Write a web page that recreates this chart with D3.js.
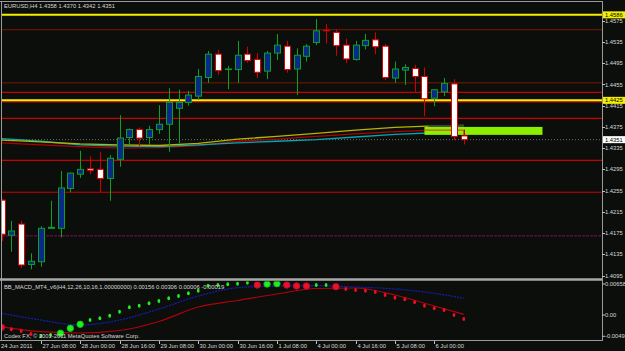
<!DOCTYPE html>
<html><head><meta charset="utf-8">
<script src="https://cdn.jsdelivr.net/npm/d3@7"></script>
<style>body{margin:0;background:#0c0e0c;}svg{display:block}</style>
</head><body>
<svg id="c" width="625" height="351"></svg>
<script>
// ---------- DATA ----------
const opens  = [1.4237,1.4171,1.4192,1.4116,1.4121,1.4184,1.4184,1.4259,1.4286,1.4296,1.4295,1.4278,1.4314,1.4355,1.4370,1.4355,1.4370,1.4380,1.4410,1.4421,1.4433,1.4468,1.4512,1.4483,1.4483,1.4512,1.4502,1.4480,1.4514,1.4527,1.4484,1.4508,1.4534,1.4557,1.4553,1.4529,1.4502,1.4528,1.4539,1.4527,1.4467,1.4482,1.4485,1.4470,1.4429,1.4441,1.4456,1.4358];
const highs  = [1.4240,1.4198,1.4198,1.4137,1.4188,1.4236,1.4292,1.4289,1.4330,1.4320,1.4328,1.4322,1.4397,1.4372,1.4374,1.4377,1.4416,1.4448,1.4445,1.4443,1.4484,1.4518,1.4520,1.4490,1.4537,1.4526,1.4514,1.4518,1.4550,1.4537,1.4523,1.4531,1.4578,1.4569,1.4559,1.4541,1.4537,1.4550,1.4553,1.4531,1.4498,1.4493,1.4492,1.4487,1.4446,1.4467,1.4465,1.4370];
const lows   = [1.4160,1.4140,1.4109,1.4107,1.4112,1.4183,1.4167,1.4252,1.4279,1.4286,1.4252,1.4236,1.4300,1.4341,1.4339,1.4341,1.4362,1.4328,1.4344,1.4415,1.4426,1.4458,1.4473,1.4446,1.4458,1.4496,1.4467,1.4465,1.4501,1.4477,1.4435,1.4498,1.4529,1.4532,1.4509,1.4495,1.4500,1.4521,1.4512,1.4463,1.4458,1.4454,1.4441,1.4395,1.4414,1.4433,1.4350,1.4342];
const closes = [1.4173,1.4179,1.4115,1.4122,1.4184,1.4186,1.4260,1.4288,1.4295,1.4293,1.4278,1.4316,1.4354,1.4370,1.4354,1.4370,1.4380,1.4421,1.4421,1.4435,1.4470,1.4512,1.4481,1.4484,1.4510,1.4500,1.4478,1.4514,1.4529,1.4483,1.4510,1.4527,1.4556,1.4556,1.4528,1.4503,1.4529,1.4538,1.4526,1.4468,1.4484,1.4487,1.4470,1.4428,1.4445,1.4457,1.4357,1.4351];

const maIdx    = [0,4,8,12,16,20,24,28,32,36,40,44,47];
const maYellow = [1.4350,1.4347,1.4343,1.4341,1.4340,1.4344,1.4352,1.4357,1.4363,1.4369,1.4374,1.4377,1.4378];
const maCyan   = [1.4353,1.4348,1.4341,1.4339,1.4338,1.4341,1.4345,1.4348,1.4351,1.4356,1.4361,1.4364,1.4365];
const maRed    = [1.4345,1.4341,1.4338,1.4335,1.4336,1.4340,1.4348,1.4352,1.4357,1.4362,1.4366,1.4369,1.4370];

const levelsYellow = [1.4586,1.4425];
const levelsRed    = [1.4440,1.4422,1.4391,1.4312,1.4252];
const levelsDark   = [1.4558,1.4458];
const levelsPurple = [1.4170];
const lastPrice = 1.4351;
const zone = {from:43, to:55, top:1.4375, bottom:1.4360};

const priceTicks = [1.4575,1.4535,1.4495,1.4455,1.4415,1.4375,1.4335,1.4295,1.4255,1.4215,1.4175,1.4135,1.4095];
const dateTickIdx = [0,4,8,12,16,20,24,28,32,36,40,44];
const dateTickLabels = ["24 Jun 2011","27 Jun 08:00","28 Jun 00:00","28 Jun 16:00","29 Jun 08:00","30 Jun 00:00","30 Jun 16:00","1 Jul 08:00","4 Jul 00:00","4 Jul 16:00","5 Jul 08:00","6 Jul 00:00"];

const bandUpper = [0.00034,-0.00098,-0.00196,-0.00098,0.00118,0.00373,0.00536,0.00570,0.00576,0.00550,0.00511,0.00426,0.00328];
const bandLower = [-0.00229,-0.00327,-0.00353,-0.00304,-0.00127,0.00158,0.00285,0.00413,0.00521,0.00530,0.00393,0.00177,0.00014];
const macdDots = [-0.00241,-0.00280,-0.00313,-0.00372,-0.00412,-0.00392,-0.00358,-0.00260,-0.00182,-0.00097,-0.00064,-0.00013,0.00065,0.00152,0.00183,0.00230,0.00275,0.00328,0.00373,0.00426,0.00477,0.00576,0.00589,0.00603,0.00615,0.00634,0.00589,0.00609,0.00615,0.00589,0.00570,0.00570,0.00589,0.00589,0.00556,0.00511,0.00491,0.00477,0.00452,0.00393,0.00340,0.00309,0.00250,0.00183,0.00132,0.00099,0.00001,-0.00078];
const dotUp  = [0,0,0,0,1,1,1,1,1,1,1,1,1,1,1,1,1,1,1,1,1,1,1,1,1,1,0,1,1,0,0,0,1,1,0,0,0,0,0,0,0,0,0,0,0,0,0,0];
const dotBig = [1,0,0,0,0,0,1,1,1,0,0,0,0,0,0,0,0,0,0,0,0,0,0,0,0,0,1,1,1,1,1,1,0,0,1,0,0,0,0,0,0,0,0,0,0,0,0,0];
const indTicks = [0.00658,0.00,-0.0049];
const indTickLabels = ["0.00658","0.00","-0.0049"];

// ---------- CHART ----------
const svg = d3.select("#c");
const W=625,H=351, plotL=2, plotR=602, mainT=2, mainB=278, indT=281.5, indB=340;
const font = "Liberation Sans, Arial, sans-serif";
svg.append("rect").attr("width",W).attr("height",H).attr("fill","#0c0e0c");

const x = d3.scaleLinear().domain([0,47]).range([1.5,463.8]);
const y = d3.scaleLinear().domain([1.4095,1.4575]).range([275.6,20.7]);
const yi = d3.scaleLinear().domain([-0.0049,0.00658]).range([340,281.5]);

const defs = svg.append("defs");
defs.append("clipPath").attr("id","cm").append("rect").attr("x",plotL).attr("y",mainT).attr("width",plotR-plotL).attr("height",mainB-mainT);
defs.append("clipPath").attr("id","ci").append("rect").attr("x",plotL).attr("y",indT).attr("width",plotR-plotL).attr("height",indB-indT);

const gm = svg.append("g").attr("clip-path","url(#cm)");

function hline(g,p,color,w,dash){
  g.append("line").attr("x1",plotL).attr("x2",plotR).attr("y1",y(p)).attr("y2",y(p))
   .attr("stroke",color).attr("stroke-width",w).attr("stroke-dasharray",dash||null);
}
levelsPurple.forEach(p=>hline(gm,p,"#5a0c40",1.5,"3,1"));
levelsDark.forEach(p=>hline(gm,p,"#7a1800",1));
levelsRed.forEach(p=>hline(gm,p,"#c80000",1.2));
levelsYellow.forEach(p=>hline(gm,p,"#f4f000",2));
hline(gm,lastPrice,"#707070",1,"1,2");

// moving averages
const maLine = d3.line().x((d,i)=>x(maIdx[i])).y(d=>y(d));
[[maRed,"#b00000"],[maCyan,"#00a8b0"],[maYellow,"#b8b400"]].forEach(([arr,c])=>{
  gm.append("path").attr("d",maLine(arr)).attr("fill","none").attr("stroke",c).attr("stroke-width",1.3);
});

// zone
gm.append("rect").attr("x",x(zone.from)+4).attr("y",y(zone.top)-2).attr("width",x(47)-x(zone.from)-4).attr("height",2).attr("fill","#404040");
gm.append("rect").attr("x",x(zone.from)).attr("width",x(zone.to)-x(zone.from)).attr("y",y(zone.top)).attr("height",y(zone.bottom)-y(zone.top)).attr("fill","#88f000");
gm.append("polyline").attr("points",`${x(zone.from)},${y(1.4369)} ${x(47)},${y(1.4369)} ${x(47)},${y(zone.bottom)}`).attr("fill","none").attr("stroke","#e03020").attr("stroke-width",1);

// candles
const idx = d3.range(opens.length);
const cg = gm.selectAll("g.c").data(idx).join("g");
cg.append("line").attr("x1",i=>Math.round(x(i))+0.5).attr("x2",i=>Math.round(x(i))+0.5)
  .attr("y1",i=>y(highs[i])).attr("y2",i=>y(lows[i]))
  .attr("stroke",i=>closes[i]>=opens[i]?"#10a020":"#d00000").attr("stroke-width",1);
cg.append("rect").attr("x",i=>Math.round(x(i))-2.5).attr("width",6)
  .attr("y",i=>y(Math.max(opens[i],closes[i])))
  .attr("height",i=>Math.max(0.5,Math.abs(y(opens[i])-y(closes[i]))))
  .attr("fill",i=>closes[i]>=opens[i]?"#0a2a8a":"#ffffff")
  .attr("stroke",i=>closes[i]>=opens[i]?"#10a020":"#e00000").attr("stroke-width",1);

// ---------- INDICATOR ----------
const gi = svg.append("g").attr("clip-path","url(#ci)");
const bl = d3.line().x((d,i)=>x(maIdx[i])).y(d=>yi(d)).curve(d3.curveMonotoneX);
gi.append("path").attr("d",bl(bandLower)).attr("fill","none").attr("stroke","#b00010").attr("stroke-width",1.2);
gi.append("path").attr("d",bl(bandUpper)).attr("fill","none").attr("stroke","#1020b0").attr("stroke-width",1.2).attr("stroke-dasharray","2,1");
gi.selectAll("ellipse.d").data(idx).join("ellipse")
  .attr("cx",i=>x(i)).attr("cy",i=>yi(macdDots[i]))
  .attr("rx",i=>dotBig[i]?3.2:1.4).attr("ry",i=>dotBig[i]?3.2:2)
  .attr("fill",i=>dotUp[i]?"#20f020":"#f01020")
  .attr("stroke",i=>dotBig[i]?(dotUp[i]?"#10c010":"#b01040"):"none");

// ---------- FRAMES & AXES ----------
const fr = svg.append("g").attr("stroke","#9a9a9a").attr("fill","none");
fr.append("line").attr("x1",0).attr("x2",plotR).attr("y1",1.5).attr("y2",1.5);
fr.append("line").attr("x1",1.5).attr("x2",1.5).attr("y1",1).attr("y2",indB);
fr.append("line").attr("x1",plotR+0.5).attr("x2",plotR+0.5).attr("y1",1).attr("y2",indB+1);
fr.append("line").attr("x1",0).attr("x2",plotR).attr("y1",279.5).attr("y2",279.5).attr("stroke","#a8a8a8").attr("stroke-width",2.5);
fr.append("line").attr("x1",0).attr("x2",plotR).attr("y1",indB+0.5).attr("y2",indB+0.5);

const txt = (g,xx,yy,s,col,size)=>g.append("text").attr("x",xx).attr("y",yy).text(s)
  .attr("fill",col||"#d8d8d8").attr("font-family",font).attr("font-size",size||5.8);

// price axis
const ax = svg.append("g");
priceTicks.forEach(p=>{
  ax.append("line").attr("x1",plotR).attr("x2",plotR+3).attr("y1",Math.round(y(p))+0.5).attr("y2",Math.round(y(p))+0.5).attr("stroke","#c0c0c0");
  txt(ax,605,y(p)+2.1,p.toFixed(4));
});
indTicks.forEach((v,k)=>{
  const yy = k===0?284:(k===2?336.3:yi(v));
  ax.append("line").attr("x1",plotR).attr("x2",plotR+3).attr("y1",yy).attr("y2",yy).attr("stroke","#c0c0c0");
  txt(ax,605,yy+2.1,indTickLabels[k]);
});
function tag(p,bg){
  const yy=y(p);
  ax.append("rect").attr("x",603).attr("y",yy-3.5).attr("width",22).attr("height",7).attr("fill",bg);
  txt(ax,605,yy+2.1,p.toFixed(4),"#000");
}
levelsYellow.forEach(p=>tag(p,"#f4f000"));
tag(lastPrice,"#ffffff");

// date axis
dateTickIdx.forEach((i,k)=>{
  const xx = Math.round(x(i))+0.5;
  if(k>0) ax.append("line").attr("x1",xx).attr("x2",xx).attr("y1",indB+1).attr("y2",indB+4).attr("stroke","#c0c0c0");
  txt(ax,k===0?1:xx+1,348.2,dateTickLabels[k]);
});

// texts
txt(svg,4,8.3,"EURUSD,H4 1.4358 1.4370 1.4342 1.4351");
txt(svg,4,289.2,"BB_MACD_MT4_v6(H4,12,26,10,16,1.00000000) 0.00156 0.00306 0.00006 -0.00019");
txt(svg,4,337.8,"Codex FX, © 2001-2011 MetaQuotes Software Corp.");
</script>
</body></html>
